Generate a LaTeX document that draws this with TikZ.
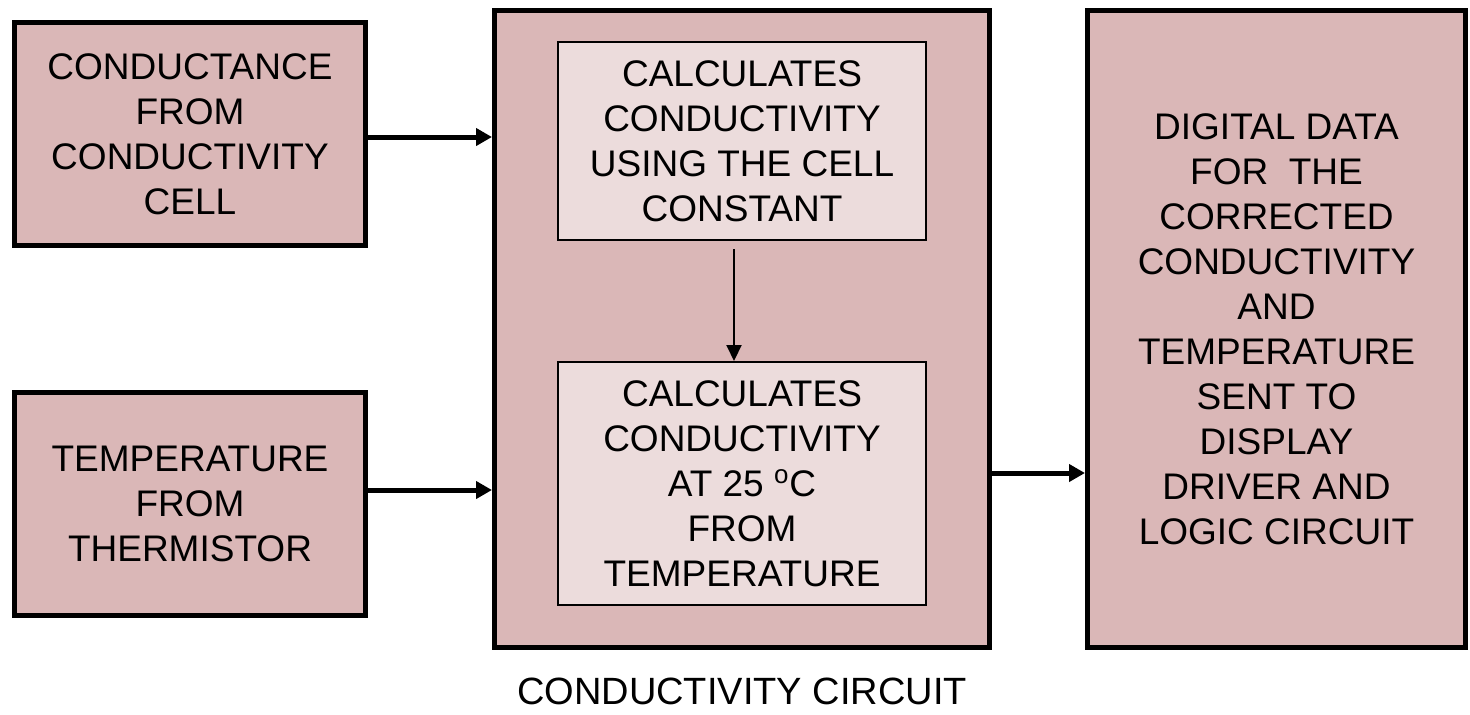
\documentclass[tikz,border=0pt]{standalone}
\usepackage{fontspec}
\setmainfont{Liberation Sans}
\usetikzlibrary{arrows.meta}
\definecolor{boxpink}{RGB}{218,183,183}
\definecolor{innerpink}{RGB}{236,220,220}

\begin{document}
\begin{tikzpicture}[x=0.5pt, y=-0.5pt,
    every node/.style={align=center, font=\fontsize{18.5}{22.5}\selectfont},
    outerbox/.style={draw, line width=2.5pt, fill=boxpink, inner sep=0pt},
    innerbox/.style={draw, line width=1pt, fill=innerpink, inner sep=0pt}]
    \useasboundingbox (0,0) rectangle (1470,714);
    \node[outerbox, minimum width=175.5pt, minimum height=111.5pt] (cond) at (190,134) {CONDUCTANCE\\FROM\\CONDUCTIVITY\\CELL};
    \node[outerbox, minimum width=175.5pt, minimum height=111.5pt] (temp) at (190,504) {TEMPERATURE\\FROM\\THERMISTOR};
    \node[outerbox, minimum width=247.5pt, minimum height=318.5pt] (circ) at (742,329) {};
    \node[innerbox, minimum width=184pt, minimum height=99pt] (calc1) at (742,141) {CALCULATES\\CONDUCTIVITY\\USING THE CELL\\CONSTANT};
    \node[innerbox, minimum width=184pt, minimum height=121.5pt] (calc2) at (742,483.5) {CALCULATES\\CONDUCTIVITY\\AT 25 \textsuperscript{o}C\\FROM\\TEMPERATURE};
    \node[outerbox, minimum width=189pt, minimum height=318.5pt] (out) at (1276.5,329) {DIGITAL DATA\\FOR\ \ THE\\CORRECTED\\CONDUCTIVITY\\AND\\TEMPERATURE\\SENT TO\\DISPLAY\\DRIVER AND\\LOGIC CIRCUIT};
    \node[font=\fontsize{19}{22}\selectfont] (cap) at (742,691) {CONDUCTIVITY CIRCUIT};
    \coordinate (a1) at (0,137); \coordinate (a2) at (0,490); \coordinate (a3) at (0,473);
    \draw[line width=2.5pt, -{Triangle[length=8pt,width=8.5pt]}] (a1 -| cond.east) -- (a1 -| circ.west);
    \draw[line width=2.5pt, -{Triangle[length=8pt,width=8.5pt]}] (a2 -| temp.east) -- (a2 -| circ.west);
    \draw[line width=2.5pt, -{Triangle[length=8pt,width=8.5pt]}] (a3 -| circ.east) -- (a3 -| out.west);
    \draw[line width=1pt, -{Triangle[length=8pt,width=7.5pt]}, shorten <=4pt] ([xshift=-4pt]calc1.south) -- ([xshift=-4pt]calc2.north);
\end{tikzpicture}
\end{document}
